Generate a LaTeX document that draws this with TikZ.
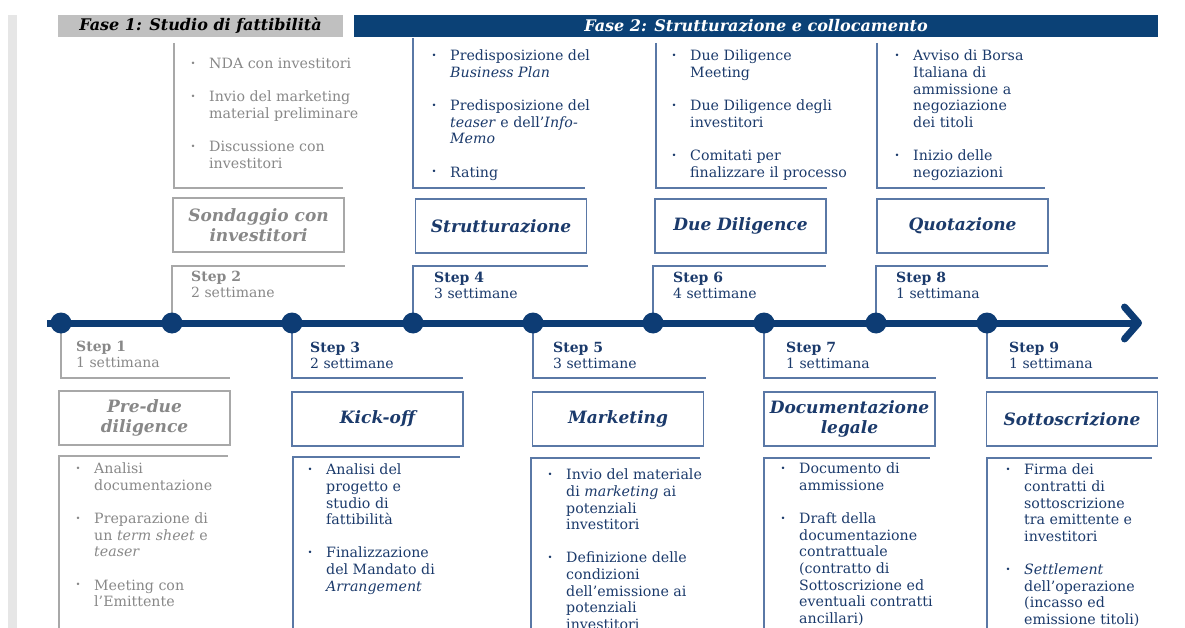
\documentclass[tikz,border=0pt]{standalone}
\usepackage{fontspec}
\setmainfont{DejaVu Serif}
\usetikzlibrary{arrows.meta}

\definecolor{navy}{HTML}{0D3C74}
\definecolor{hdrblue}{HTML}{0B4176}
\definecolor{btext}{HTML}{1B3A6B}
\definecolor{bline}{HTML}{5A78A6}
\definecolor{gtext}{HTML}{888888}
\definecolor{gline}{HTML}{A8A8A8}
\definecolor{ghdr}{HTML}{C0C0C0}
\definecolor{gbar}{HTML}{E6E6E6}

% bullet followed by a fixed indent; continuation lines use \ind
\newcommand{\bul}{\makebox[19pt][l]{\hspace*{0.5pt}\raisebox{2.5pt}{\fontsize{8.5}{8.5}\selectfont•}}}
\newcommand{\ind}{\hspace*{19pt}}
\newcommand{\gap}{\\[16.6pt]}

\tikzset{
  lst/.style={anchor=north west, inner sep=0pt, align=left,
              font=\fontsize{14.2}{16.6}\selectfont},
  glst/.style={lst, text=gtext},
  blst/.style={lst, text=btext},
  ttl/.style={draw, line width=1.2pt, minimum width=171pt, minimum height=54pt,
              align=center, inner sep=0pt,
              font=\fontsize{17}{20}\selectfont\bfseries\itshape},
  gttl/.style={ttl, draw=gline, text=gtext},
  bttl/.style={ttl, draw=bline, text=btext},
  gframe/.style={draw=gline, line width=1.2pt},
  bframe/.style={draw=bline, line width=1.2pt},
  steplbl/.style={anchor=north west, inner sep=0pt, align=left,
                  font=\fontsize{14}{16}\selectfont},
  timeline/.style={draw=navy, line width=7pt},
  phase/.style={inner sep=0pt, font=\fontsize{16}{18}\selectfont\bfseries\itshape}
}

\begin{document}
\begin{tikzpicture}[x=1pt, y=-1pt]
\useasboundingbox (0,0) rectangle (1185,628);
\clip (0,0) rectangle (1185,628);

% side bar
\fill[gbar] (8,15) rectangle (17,628);

% phase headers
\fill[ghdr] (58,15) rectangle (343,37);
\node[phase, text=black] (f1) at (200.5,26) {Fase 1: Studio di fattibilità};
\fill[hdrblue] (354,15) rectangle (1158,37);
\node[phase, text=white] (f2) at (756,26) {Fase 2: Strutturazione e collocamento};

% upper activity lists
\draw[gframe] (174,43) |- (343,188);
\node[glst] (l2) at (190,58) {\bul NDA con investitori\gap
\bul Invio del marketing\\ \ind material preliminare\gap
\bul Discussione con\\ \ind investitori};

\draw[bframe] (413,38) |- (585,188);
\node[blst] (l4) at (431,50) {\bul Predisposizione del\\ \ind \textit{Business Plan}\gap
\bul Predisposizione del\\ \ind \textit{teaser} e  dell'\textit{Info-}\\ \ind \textit{Memo}\gap
\bul Rating};

\draw[bframe] (656,43) |- (827,188);
\node[blst] (l6) at (671,50) {\bul Due Diligence\\ \ind Meeting\gap
\bul Due Diligence degli\\ \ind investitori\gap
\bul Comitati per\\ \ind finalizzare il processo};

\draw[bframe] (877,43) |- (1045,188);
\node[blst] (l8) at (894,50) {\bul Avviso di Borsa\\ \ind Italiana di\\ \ind ammissione a\\ \ind negoziazione\\ \ind dei titoli\gap
\bul Inizio delle\\ \ind negoziazioni};

% upper step titles
\node[gttl] (t2) at (258.5,225) {Sondaggio con\\investitori};
\node[bttl] (t4) at (501,226) {Strutturazione};
\node[bttl] (t6) at (740.5,226) {Due Diligence};
\node[bttl] (t8) at (962.5,226) {Quotazione};

% timeline with its step points
\coordinate (tstart) at (47,323);
\coordinate (tend) at (1142,323);
\draw[timeline, -{Straight Barb[round, length=14pt, width=32pt]}] (tstart) -- (tend);

\foreach \n/\x in {1/61, 2/172, 3/292, 4/413, 5/533, 6/653, 7/764, 8/876, 9/987}
  \coordinate (d\n) at (\x,323);

% step brackets, drawn before the dots so the dots cover their ends
\draw[gframe] (d1) |- ++(169,55);
\draw[gframe] (d2) |- ++(173,-57);
\draw[bframe] (d3) |- ++(171,55);
\draw[bframe] (d4) |- ++(175,-57);
\draw[bframe] (d5) |- ++(173,55);
\draw[bframe] (d6) |- ++(173,-57);
\draw[bframe] (d7) |- ++(172,55);
\draw[bframe] (d8) |- ++(172,-57);
\draw[bframe] (d9) |- ++(171,55);
\foreach \n in {1,...,9} \fill[navy] (d\n) circle[radius=10.5pt];

% step labels
\node[steplbl, text=gtext] (s1) at (76,341) {\textbf{Step 1}\\1 settimana};
\node[steplbl, text=gtext] (s2) at (191,271) {\textbf{Step 2}\\2 settimane};
\node[steplbl, text=btext] (s3) at (310,342) {\textbf{Step 3}\\2 settimane};
\node[steplbl, text=btext] (s4) at (434,272) {\textbf{Step 4}\\3 settimane};
\node[steplbl, text=btext] (s5) at (553,342) {\textbf{Step 5}\\3 settimane};
\node[steplbl, text=btext] (s6) at (673,272) {\textbf{Step 6}\\4 settimane};
\node[steplbl, text=btext] (s7) at (786,342) {\textbf{Step 7}\\1 settimana};
\node[steplbl, text=btext] (s8) at (896,272) {\textbf{Step 8}\\1 settimana};
\node[steplbl, text=btext] (s9) at (1009,342) {\textbf{Step 9}\\1 settimana};

% lower step titles
\node[gttl] (t1) at (144.5,418) {Pre-due\\diligence};
\node[bttl] (t3) at (377.5,419) {Kick-off};
\node[bttl] (t5) at (618,419) {Marketing};
\node[bttl] (t7) at (849.5,419) {Documentazione\\legale};
\node[bttl] (t9) at (1072,419) {Sottoscrizione};

% lower activity lists
\draw[gframe] (59,640) |- (228,456);
\node[glst] (l1) at (75,463) {\bul Analisi\\ \ind documentazione\gap
\bul Preparazione di\\ \ind un \textit{term sheet} e\\ \ind \textit{teaser}\gap
\bul Meeting con\\ \ind l’Emittente};

\draw[bframe] (293,640) |- (460,457);
\node[blst] (l3) at (307,464) {\bul Analisi del\\ \ind progetto e\\ \ind studio di\\ \ind fattibilità\gap
\bul Finalizzazione\\ \ind del Mandato di\\ \ind \textit{Arrangement}};

\draw[bframe] (531,640) |- (700,458);
\node[blst] (l5) at (547,469) {\bul Invio del materiale\\ \ind di \textit{marketing} ai\\ \ind potenziali\\ \ind investitori\gap
\bul Definizione delle\\ \ind condizioni\\ \ind dell’emissione ai\\ \ind potenziali\\ \ind investitori};

\draw[bframe] (764,640) |- (930,458);
\node[blst] (l7) at (780,463) {\bul Documento di\\ \ind ammissione\gap
\bul Draft della\\ \ind documentazione\\ \ind contrattuale\\ \ind (contratto  di\\ \ind Sottoscrizione ed\\ \ind eventuali contratti\\ \ind ancillari)};

\draw[bframe] (987,640) |- (1152,458);
\node[blst] (l9) at (1005,464) {\bul Firma dei\\ \ind contratti di\\ \ind sottoscrizione\\ \ind tra emittente e\\ \ind investitori\gap
\bul \textit{Settlement}\\ \ind dell’operazione\\ \ind (incasso ed\\ \ind emissione titoli)};

\end{tikzpicture}
\end{document}
